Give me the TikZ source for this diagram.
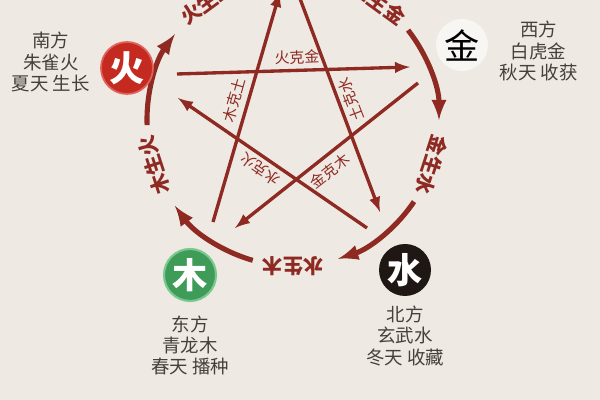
\documentclass[tikz,border=0pt]{standalone}
\usepackage{fontspec}
\setmainfont{Noto Sans CJK SC}
\usepackage{tikz}
\usetikzlibrary{positioning,calc}

\definecolor{bgcol}{HTML}{EEE9E3}
\definecolor{linered}{HTML}{8E2A22}
\definecolor{huored}{HTML}{C42A20}
\definecolor{huoring}{HTML}{E0625A}
\definecolor{mugreen}{HTML}{3E9B58}
\definecolor{muring}{HTML}{78C890}
\definecolor{shuiblack}{HTML}{1E1714}
\definecolor{jinwhite}{HTML}{F8F6F2}
\definecolor{infogray}{HTML}{46403C}

\begin{document}
\begin{tikzpicture}[
    elem/.style={circle, minimum size=1.04cm, inner sep=0pt, text=white,
      font=\fontsize{20}{20}\selectfont\bfseries},
    info/.style={align=center, inner sep=0pt, text=infogray,
      font=\fontsize{10.5}{12.2}\selectfont},
    shengtext/.style={text=linered, inner sep=0pt,
      font=\fontsize{11.5}{12}\selectfont\bfseries},
    ketext/.style={text=linered, inner sep=0pt,
      font=\fontsize{8.5}{9}\selectfont},
    shengarc/.style={->, >=latex, line width=2.9pt, draw=linered},
    kearrow/.style={->, >=latex, line width=1.9pt, draw=linered}]
  \fill[bgcol] (0,0) rectangle (12,8);
  \useasboundingbox (0,0) rectangle (12,8);
  \clip (0,0) rectangle (12,8);

  \coordinate (C) at (5.86,5.6);

  % xiang sheng: outer ring
  \draw[shengarc] (C) ++(182:2.92) arc[start angle=182, end angle=144, radius=2.92];
  \draw[shengarc] (C) ++(110:2.92) arc[start angle=110, end angle=72, radius=2.92];
  \draw[shengarc] (C) ++(38:2.92) arc[start angle=38, end angle=0, radius=2.92];
  \draw[shengarc] (C) ++(-34:2.92) arc[start angle=-34, end angle=-72, radius=2.92];
  \draw[shengarc] (C) ++(-106:2.92) arc[start angle=-106, end angle=-144, radius=2.92];

  \node[shengtext, rotate=36] (huosheng) at ($(C)+(126:2.92)$) {火生土};
  \node[shengtext, rotate=-36] (tusheng) at ($(C)+(54:2.92)$) {土生金};
  \node[shengtext, rotate=-108] (jinsheng) at ($(C)+(-18:2.92)$) {金生水};
  \node[shengtext, rotate=180] (shuisheng) at ($(C)+(-90:2.92)$) {水生木};
  \node[shengtext, rotate=108] (musheng) at ($(C)+(198:2.92)$) {木生火};

  % xiang ke: the star
  \coordinate (huoke) at (3.54,6.52);
  \coordinate (jinhit) at (8.2,6.66);
  \coordinate (muke) at (4.26,3.56);
  \coordinate (tuhit) at (5.6,8.16);
  \coordinate (tuke) at (5.86,8.4);
  \coordinate (shuihit) at (7.6,3.76);
  \coordinate (shuike) at (7.34,3.44);
  \coordinate (huohit) at (3.56,6.04);
  \coordinate (jinke) at (8.36,6.34);
  \coordinate (muhit) at (4.7,3.44);

  \draw[kearrow] (huoke) -- (jinhit);
  \draw[kearrow] (muke) -- (tuhit);
  \draw[kearrow] (tuke) -- (shuihit);
  \draw[kearrow] (shuike) -- (huohit);
  \draw[kearrow] (jinke) -- (muhit);

  \node[ketext, rotate=2] (huokejin) at (5.94,6.85) {火克金};
  \node[ketext, rotate=74] (mukitu) at (4.68,6.0) {木克土};
  \node[ketext, rotate=111] (tukeshui) at (7.02,6.0) {土克水};
  \node[ketext, rotate=145.5] (shuikehuo) at (5.2,4.62) {水克火};
  \node[ketext, rotate=38] (jinkemu) at (6.6,4.58) {金克木};

  % the five elements
  \node[elem, fill=huored, draw=huoring, line width=1pt] (huo) at (2.54,6.64) {火};
  \node[elem, fill=jinwhite, text=black, font=\fontsize{20}{20}\selectfont] (jin) at (9.24,7.1) {金};
  \node[elem, fill=mugreen, draw=muring, line width=1.2pt] (mu) at (3.8,2.5) {木};
  \node[elem, fill=shuiblack] (shui) at (8.1,2.6) {水};

  \node[info, left=0.2cm of huo, yshift=0.12cm] (nan) {南方\\朱雀火\\夏天 生长};
  \node[info, right=0.22cm of jin, yshift=-0.12cm] (xi) {西方\\白虎金\\秋天 收获};
  \node[info, below=0.26cm of mu] (dong) {东方\\青龙木\\春天 播种};
  \node[info, below=0.18cm of shui] (bei) {北方\\玄武水\\冬天 收藏};
\end{tikzpicture}
\end{document}
